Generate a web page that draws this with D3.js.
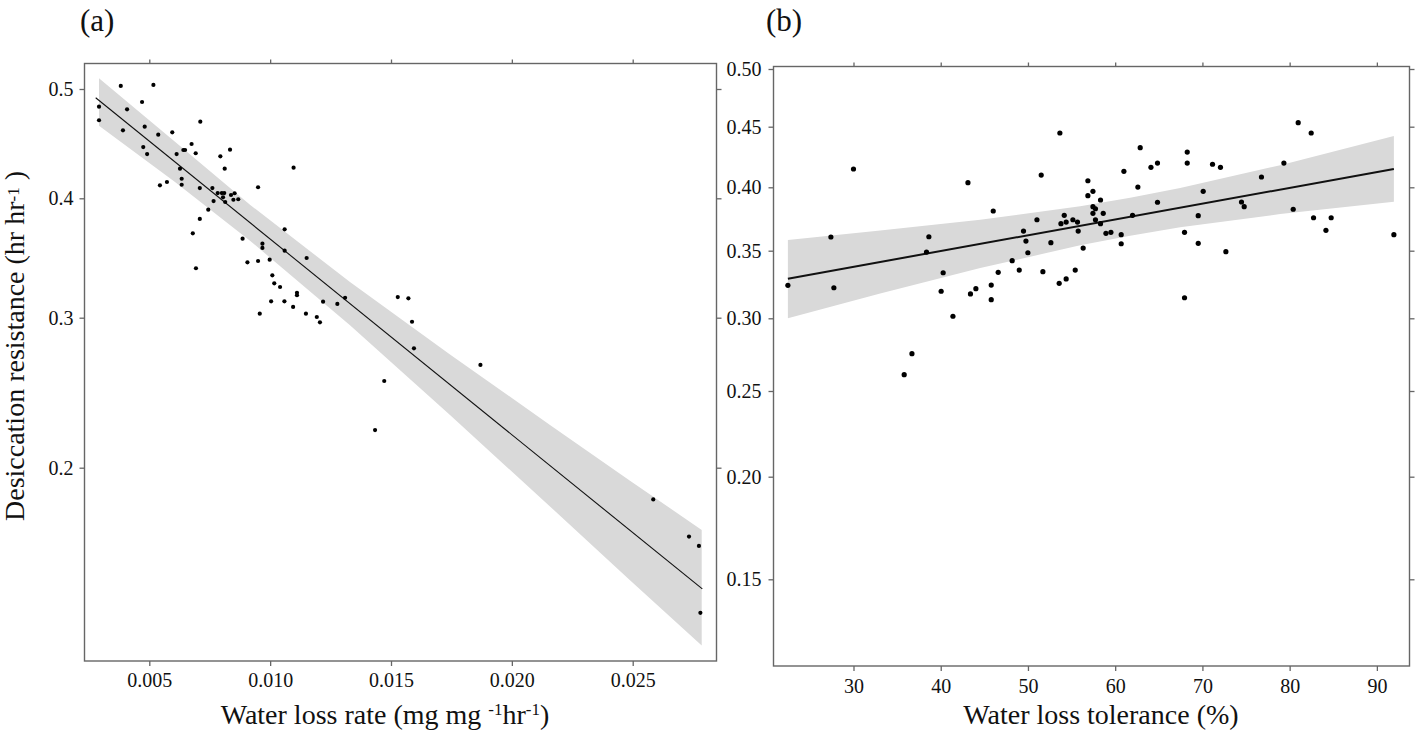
<!DOCTYPE html>
<html><head><meta charset="utf-8">
<script src="https://cdn.jsdelivr.net/npm/d3@7"></script>
<style>
body{margin:0;background:#fff}
svg{display:block}
text{font-family:"Liberation Serif","Times New Roman",serif;fill:#111}
</style>
</head><body>
<svg id="c" width="1416" height="735"></svg>
<script>
// ---------- Panel (a): water loss rate vs desiccation resistance ----------
const rateX = [0.00292,0.00292,0.00382,0.00391,0.00408,0.00470,0.00481,0.00475,0.00491,0.00517,
0.00537,0.00544,0.00573,0.00595,0.00613,0.00627,0.00634,0.00634,0.00641,0.00648,
0.00675,0.00680,0.00692,0.00693,0.00709,0.00709,0.00711,0.00744,0.00761,0.00766,
0.00783,0.00794,0.00800,0.00805,0.00810,0.00812,0.00814,0.00834,0.00838,0.00848,
0.00853,0.00868,0.00886,0.00906,0.00950,0.00950,0.00957,0.00968,0.00968,0.00998,
0.01004,0.01009,0.01017,0.01041,0.01060,0.01060,0.01059,0.01095,0.01097,0.01111,
0.01111,0.01151,0.01148,0.01193,0.01206,0.01219,0.01278,0.01310,0.01528,0.01572,
0.01587,0.01595,0.01870,0.01472,0.01434,0.02585,0.02733,0.02774,0.02780];
const rateY = [0.4838,0.4714,0.5031,0.4622,0.4814,0.4881,0.4655,0.4469,0.4405,0.5041,
0.4582,0.4119,0.4149,0.4604,0.4405,0.4271,0.4179,0.4124,0.4442,0.4442,
0.4497,0.3707,0.4412,0.3414,0.4094,0.3827,0.4701,0.3905,0.4094,0.3977,
0.4048,0.4384,0.4048,0.4009,0.4048,0.4271,0.3969,0.4445,0.4030,0.3988,
0.4046,0.3992,0.3662,0.3464,0.4101,0.3475,0.3034,0.3620,0.3584,0.3486,
0.3137,0.3355,0.3288,0.3257,0.3740,0.3561,0.3137,0.3090,0.4280,0.3209,
0.3188,0.3500,0.3034,0.3006,0.2969,0.3134,0.3115,0.3167,0.3173,0.3162,
0.2973,0.2796,0.2685,0.2578,0.2251,0.1834,0.1639,0.1590,0.1240];
const fitAx = [0.002782, 0.02788];
const fitAy = [0.4920, 0.1365];
const bandAx  = [0.002919,0.006063,0.009166,0.013303,0.017441,0.021578,0.024888,0.027855];
const bandAhi = [0.5109,0.4518,0.3946,0.3299,0.2755,0.2285,0.1932,0.1674];
const bandAlo = [0.4664,0.4148,0.3645,0.2949,0.2351,0.1797,0.1410,0.1068];
const ticksAx = [0.005,0.010,0.015,0.020,0.025];
const ticksAy = [0.5,0.4,0.3,0.2];

// ---------- Panel (b): water loss tolerance vs desiccation resistance ----------
const tolX = [22.48,27.41,27.75,30.00,38.37,38.64,40.05,40.28,41.40,43.12,
43.41,44.03,45.79,45.79,46.02,46.59,48.19,49.00,49.49,49.77,
49.99,51.03,51.52,51.71,52.63,53.58,53.66,53.78,54.16,54.38,
54.38,55.15,55.42,55.68,55.76,56.33,56.87,56.87,57.45,57.45,
57.45,57.74,57.74,58.32,58.32,58.63,58.94,59.51,60.69,60.69,
61.00,61.99,62.60,62.87,64.10,64.85,64.85,67.95,67.95,68.26,
68.26,69.52,69.52,70.09,71.16,72.07,72.69,74.48,74.79,76.77,
79.34,80.41,80.98,82.47,82.74,84.16,84.76,91.95,35.81,36.70];
const tolY = [0.3244,0.3608,0.3226,0.4151,0.3490,0.3610,0.3200,0.3337,0.3015,0.4038,
0.3180,0.3219,0.3246,0.3138,0.3813,0.3340,0.3426,0.3357,0.3655,0.3576,
0.3485,0.3744,0.4101,0.3345,0.3563,0.3259,0.4448,0.3713,0.3779,0.3726,
0.3291,0.3744,0.3357,0.3726,0.3655,0.3521,0.4054,0.3934,0.3968,0.3847,
0.3795,0.3831,0.3744,0.3900,0.3713,0.3795,0.3637,0.3645,0.3626,0.3555,
0.4132,0.3779,0.4002,0.4327,0.4165,0.4200,0.3882,0.3645,0.3152,0.4291,
0.4200,0.3776,0.3558,0.3968,0.4190,0.4165,0.3493,0.3884,0.3847,0.4085,
0.4200,0.3827,0.4535,0.4448,0.3760,0.3661,0.3760,0.3626,0.2612,0.2757];
const fitBx = [22.48, 91.95];
const fitBy = [0.3293, 0.4151];
const bandBx  = [22.48,33.06,44.53,55.99,61.72,67.45,78.92,91.95];
const bandBhi = [0.3584,0.3659,0.3744,0.3851,0.3917,0.3994,0.4182,0.4423];
const bandBlo = [0.3000,0.3184,0.3372,0.3542,0.3618,0.3684,0.3789,0.3886];
const ticksBx = [30,40,50,60,70,80,90];
const ticksBy = [0.50,0.45,0.40,0.35,0.30,0.25,0.20,0.15];

// ---------- layout ----------
const svg = d3.select("#c");
const PA = {l:84.5, r:716.5, t:63.5, b:661};
const PB = {l:773.5, r:1409.5, t:66.5, b:666};

const xA = d3.scaleLinear().domain([0.002319, 0.028467]).range([PA.l, PA.r]);
const yA = d3.scaleLinear().domain([0.6,0.5,0.4,0.3,0.2,0.1]).range([-9.3,89,198.3,317.7,467.7,658.6]);
const xB = d3.scaleLinear().domain([20.83, 93.74]).range([PB.l, PB.r]);
const yB = d3.scaleLinear().domain([0.55,0.50,0.45,0.40,0.35,0.30,0.25,0.20,0.15,0.10])
  .range([11.3,69,126.7,187.3,250.7,318.3,391,476.7,579.3,700]);

const FRAME = "#666";

function panel(P, xs, ys, X, Y, fx, fy, bx, blo, bhi, tx, ty, fmtX, fmtY, r, lw, padX, padY){
  const g = svg.append("g");
  // band
  const bandData = bx.map((v,i)=>({x:v, lo:blo[i], hi:bhi[i]}));
  g.append("path").datum(bandData)
    .attr("d", d3.area().x(d=>xs(d.x)).y0(d=>ys(d.lo)).y1(d=>ys(d.hi)))
    .attr("fill","#d9d9d9");
  // fit line
  const fitData = fx.map((v,i)=>({x:v, y:fy[i]}));
  g.append("path").datum(fitData)
    .attr("d", d3.line().x(d=>xs(d.x)).y(d=>ys(d.y)))
    .attr("fill","none").attr("stroke","#111").attr("stroke-width",lw);
  // points
  g.selectAll("circle.pt").data(X.map((v,i)=>({x:v,y:Y[i]}))).join("circle")
    .attr("class","pt").attr("cx",d=>xs(d.x)).attr("cy",d=>ys(d.y)).attr("r",r).attr("fill","#000");
  // frame
  g.append("rect").attr("x",P.l).attr("y",P.t).attr("width",P.r-P.l).attr("height",P.b-P.t)
    .attr("fill","none").attr("stroke",FRAME).attr("stroke-width",1.4);
  // axes
  const style = a => { a.select(".domain").remove(); a.selectAll(".tick line").attr("stroke",FRAME).attr("stroke-width",1.3);
    a.selectAll(".tick text").style("font-family",'"Liberation Serif",serif').style("font-size","20px").attr("fill","#222"); };
  svg.append("g").attr("transform",`translate(0,${P.b})`)
    .call(d3.axisBottom(xs).tickValues(tx).tickFormat(fmtX).tickSize(5).tickPadding(padX)).call(style);
  svg.append("g").attr("transform",`translate(${P.l},0)`)
    .call(d3.axisLeft(ys).tickValues(ty).tickFormat(fmtY).tickSize(5).tickPadding(padY)).call(style);
  svg.append("g").attr("transform",`translate(0,${P.t})`)
    .call(d3.axisTop(xs).tickValues(tx).tickFormat("").tickSize(4)).call(style);
  svg.append("g").attr("transform",`translate(${P.r},0)`)
    .call(d3.axisRight(ys).tickValues(ty).tickFormat("").tickSize(5)).call(style);
}

panel(PA, xA, yA, rateX, rateY, fitAx, fitAy, bandAx, bandAlo, bandAhi, ticksAx, ticksAy,
      d3.format(".3f"), d3.format(".1f"), 2.1, 1.1, 7, 6);
panel(PB, xB, yB, tolX, tolY, fitBx, fitBy, bandBx, bandBlo, bandBhi, ticksBx, ticksBy,
      d3.format("d"), d3.format(".2f"), 2.6, 2, 8, 7);

// panel letters
svg.append("text").attr("x",80).attr("y",31).style("font-size","31px").text("(a)");
svg.append("text").attr("x",766).attr("y",31).style("font-size","31px").text("(b)");

// axis titles
const tA = svg.append("text").attr("x",385).attr("y",724).attr("text-anchor","middle").style("font-size","28px");
tA.append("tspan").text("Water loss rate (mg mg ");
tA.append("tspan").attr("dy",-9).style("font-size","17px").text("-1");
tA.append("tspan").attr("dy",9).text("hr");
tA.append("tspan").attr("dy",-9).style("font-size","17px").text("-1");
tA.append("tspan").attr("dy",9).text(")");

svg.append("text").attr("x",1101).attr("y",724).attr("text-anchor","middle").style("font-size","28px")
  .text("Water loss tolerance (%)");

const tY = svg.append("text").attr("transform","translate(24,346) rotate(-90)")
  .attr("text-anchor","middle").style("font-size","28px");
tY.append("tspan").text("Desiccation resistance (hr hr");
tY.append("tspan").attr("dy",-5).style("font-size","17px").text("-1");
tY.append("tspan").attr("dy",5).text(" )");
</script>
</body></html>
